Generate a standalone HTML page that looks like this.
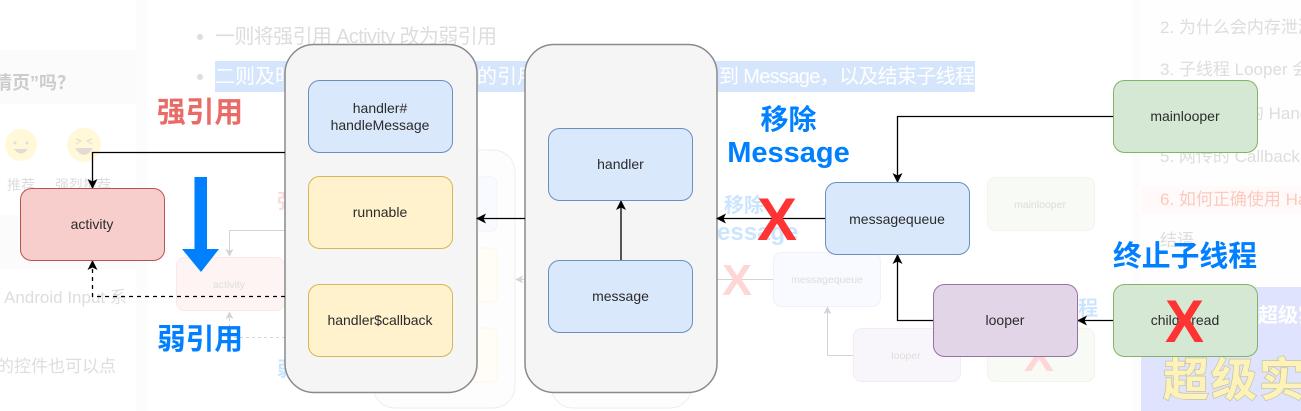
<!DOCTYPE html>
<html><head><meta charset="utf-8">
<style>
html,body{margin:0;padding:0;background:#fff;width:1301px;height:411px;overflow:hidden}
svg{display:block;filter:blur(0.3px)}
text{font-family:"Liberation Sans","Noto Sans CJK SC",sans-serif}
.n{font-size:14px;fill:#2b2b2b;text-anchor:middle}
.f{font-size:10.5px;fill:#ddd;text-anchor:middle}
.b{font-weight:700}
.bg{font-size:20px;fill:#ddd}
.r{font-size:17px;fill:#ddd}
</style></head><body>
<svg width="1301" height="411" viewBox="0 0 1301 411" xmlns="http://www.w3.org/2000/svg">
<defs>
<marker id="a" viewBox="0 0 10 10" refX="9" refY="5" markerWidth="10" markerHeight="10" markerUnits="userSpaceOnUse" orient="auto"><path d="M0 0L10 5L0 10L2.5 5Z" fill="#000"/></marker>
<marker id="g" viewBox="0 0 10 10" refX="9" refY="5" markerWidth="8" markerHeight="8" markerUnits="userSpaceOnUse" orient="auto"><path d="M0 0L10 5L0 10L2.5 5Z" fill="#d4d4d4"/></marker>
</defs>

<!-- faded page backdrop -->
<rect x="136" y="0" width="12" height="411" fill="#fcfcfc"/>
<rect x="0" y="50" width="136" height="54" fill="#fbfbfb"/>
<rect x="0" y="215" width="136" height="54" fill="#fbfbfb"/>
<rect x="1132" y="0" width="8" height="411" fill="#fcfcfc"/>
<rect x="1140" y="0" width="161" height="287" fill="#fefefe"/>
<rect x="1141" y="186" width="160" height="28" fill="#fffaf9"/>
<rect x="1141" y="287" width="160" height="124" fill="#dfe3fd"/>

<circle cx="200" cy="37" r="3" fill="#ddd"/>
<circle cx="200" cy="77" r="3" fill="#ddd"/>
<text x="215" y="43" class="bg" textLength="282" lengthAdjust="spacing">一则将强引用 Activity 改为弱引用</text>
<rect x="215" y="61" width="760" height="31" fill="#d5e6fc"/>
<text x="215" y="83" font-size="20" fill="#fff">二则及时</text>
<text x="477" y="83" font-size="20" fill="#fff">的引用</text>
<text x="719" y="83" font-size="20" fill="#fff" textLength="256" lengthAdjust="spacing">到 Message，以及结束子线程</text>

<text x="-6" y="89" font-size="18" font-weight="700" fill="#ccc">情页”吗？</text>
<circle cx="21" cy="145" r="16" fill="#fff9d9"/>
<circle cx="84" cy="145" r="17" fill="#fff9d9"/>
<circle cx="15" cy="143" r="1.5" fill="#ddd"/><circle cx="27" cy="143" r="1.5" fill="#ddd"/>
<path d="M14 149Q21 158 28 149Z" fill="#e4dcd4"/>
<path d="M75 148Q84 162 93 148Z" fill="#e4dcd4"/>
<path d="M76 139l5 2-5 3M92 139l-5 2 5 3" stroke="#e2dcc8" fill="none"/>
<text x="7" y="190" font-size="14" fill="#ddd">推荐</text>
<text x="55" y="190" font-size="14" fill="#ddd">强烈推荐</text>
<text x="4" y="303" font-size="17" fill="#ddd">Android Input 系</text>
<text x="-3" y="372" font-size="17" fill="#ddd">的控件也可以点</text>

<text x="1160" y="33" class="r">2. 为什么会内存泄漏</text>
<text x="1160" y="75" class="r">3. 子线程 Looper 会</text>
<text x="1160" y="119" class="r">4. 主线程中的 Handler</text>
<text x="1160" y="162" class="r">5. 网传的 Callback</text>
<text x="1160" y="205" class="r" style="fill:#fcc9bf">6. 如何正确使用 Handler</text>
<text x="1160" y="246" class="r">结语</text>
<text x="1258" y="322" font-size="20" font-weight="700" fill="#fff">超级实</text>
<text x="1163" y="396" font-size="46" font-weight="700" fill="#fdf3b8" stroke="#c9c49f" stroke-width="1.500" paint-order="stroke" letter-spacing="2">超级实</text>

<!-- faded ghost diagram -->
<g>
<rect x="373" y="150" width="142" height="258" rx="22" fill="#fdfdfd" stroke="#eee"/>
<rect x="551" y="150" width="141" height="258" rx="22" fill="#fdfdfd" stroke="#eee"/>
<rect x="440" y="177" width="57" height="54" rx="6" fill="#f8faff" stroke="#f1f4fa"/>
<rect x="440" y="248" width="57" height="54" rx="6" fill="#fffdf6" stroke="#fdf8ea"/>
<rect x="440" y="328" width="57" height="54" rx="6" fill="#fffdf6" stroke="#fdf8ea"/>
<rect x="176.500" y="257.500" width="108" height="53" rx="8" fill="#fdf4f3" stroke="#fae8e8"/>
<text x="229" y="288" class="f">activity</text>
<rect x="773.500" y="252.500" width="107" height="54" rx="8" fill="#f8faff" stroke="#eff2f8"/>
<text x="827" y="283" class="f">messagequeue</text>
<rect x="853.500" y="328.500" width="107" height="53" rx="8" fill="#f8f6fa" stroke="#f2edf4"/>
<text x="906" y="359" class="f">looper</text>
<rect x="987.500" y="177.500" width="107" height="53" rx="8" fill="#f7faf5" stroke="#f0f4ec"/>
<text x="1040" y="208" class="f">mainlooper</text>
<rect x="987.500" y="328.500" width="107" height="53" rx="8" fill="#f7faf5" stroke="#f0f4ec"/>
<path d="M285 230.500H229.500V256" fill="none" stroke="#d4d4d4" marker-end="url(#g)"/>
<path d="M285 337.500H229.500V312" fill="none" stroke="#d4d4d4" stroke-dasharray="3 3" marker-end="url(#g)"/>
<path d="M551 279.500H516" fill="none" stroke="#d4d4d4" marker-end="url(#g)"/>
<path d="M773 279.500H717" fill="none" stroke="#d4d4d4"/>
<path d="M853 355.500H827.500V307" fill="none" stroke="#d4d4d4" marker-end="url(#g)"/>
<text x="277" y="208" font-size="20" font-weight="700" fill="#fbdcdc">强</text>
<text x="277" y="376" font-size="20" font-weight="700" fill="#cce5ff">弱</text>
<text x="724" y="212" font-size="20" font-weight="700" fill="#cce5ff">移除</text>
<text x="717" y="240" font-size="24" font-weight="700" fill="#cce5ff">essage</text>
<text x="1078" y="315" font-size="20" font-weight="700" fill="#cce5ff">程</text>
<text x="722" y="295" font-size="44" font-weight="700" fill="#ffd6d6" textLength="30" lengthAdjust="spacingAndGlyphs">X</text>
<text x="1024" y="371" font-size="44" font-weight="700" fill="#ffd6d6" textLength="30" lengthAdjust="spacingAndGlyphs">X</text>
</g>

<!-- containers -->
<rect x="285" y="44.500" width="192" height="348" rx="29" fill="#f5f5f5" stroke="#8a8a8a" stroke-width="1.500"/>
<rect x="525" y="44.500" width="192" height="348" rx="29" fill="#f5f5f5" stroke="#8a8a8a" stroke-width="1.500"/>

<!-- connectors -->
<g fill="none" stroke="#000" stroke-width="1.300">
<path d="M285 152.500H92.500V188" marker-end="url(#a)"/>
<path d="M285 296.500H92.500V261" stroke-dasharray="4 4" marker-end="url(#a)"/>
<path d="M525 218.500H477" marker-end="url(#a)"/>
<path d="M825 218.500H717" marker-end="url(#a)"/>
<path d="M621 260V201" marker-end="url(#a)"/>
<path d="M1113 116.500H897.500V182" marker-end="url(#a)"/>
<path d="M933 320.500H897.500V255" marker-end="url(#a)"/>
<path d="M1113 320.500H1078" marker-end="url(#a)"/>
</g>

<!-- nodes -->
<rect x="20.500" y="188.500" width="144" height="72" rx="11" fill="#f8cecc" stroke="#b85450"/>
<text x="92" y="229" class="n">activity</text>
<rect x="308.500" y="80.500" width="144" height="72" rx="11" fill="#dae8fc" stroke="#6c8ebf"/>
<text x="380" y="113" class="n">handler#</text>
<text x="380" y="130" class="n">handleMessage</text>
<rect x="308.500" y="176.500" width="144" height="72" rx="11" fill="#fff2cc" stroke="#d6b656"/>
<text x="380" y="217" class="n">runnable</text>
<rect x="308.500" y="284.500" width="144" height="72" rx="11" fill="#fff2cc" stroke="#d6b656"/>
<text x="380" y="325" class="n">handler$callback</text>
<rect x="548.500" y="128.500" width="144" height="72" rx="11" fill="#dae8fc" stroke="#6c8ebf"/>
<text x="620.500" y="169" class="n">handler</text>
<rect x="548.500" y="260.500" width="144" height="72" rx="11" fill="#dae8fc" stroke="#6c8ebf"/>
<text x="620.500" y="301" class="n">message</text>
<rect x="825.500" y="182.500" width="144" height="72" rx="11" fill="#dae8fc" stroke="#6c8ebf"/>
<text x="897" y="224" class="n">messagequeue</text>
<rect x="1113.500" y="80.500" width="144" height="72" rx="11" fill="#d5e8d4" stroke="#82b366"/>
<text x="1185" y="121" class="n">mainlooper</text>
<rect x="933.500" y="284.500" width="144" height="72" rx="11" fill="#e1d5e7" stroke="#9673a6"/>
<text x="1005" y="325" class="n">looper</text>
<rect x="1113.500" y="284.500" width="144" height="72" rx="11" fill="#d5e8d4" stroke="#82b366"/>
<text x="1185" y="325" class="n">childthread</text>

<!-- overlay labels -->
<text x="157" y="122" font-size="29" class="b" fill="#ea6b66" textLength="86" lengthAdjust="spacingAndGlyphs">强引用</text>
<text x="157" y="349" font-size="29" class="b" fill="#007fff" textLength="86" lengthAdjust="spacingAndGlyphs">弱引用</text>
<text x="788.500" y="129" font-size="28" class="b" fill="#007fff" text-anchor="middle">移除</text>
<text x="788.500" y="162" font-size="29" class="b" fill="#007fff" text-anchor="middle">Message</text>
<text x="1113" y="266" font-size="29" class="b" fill="#007fff" textLength="144" lengthAdjust="spacingAndGlyphs">终止子线程</text>
<path d="M194.500 177H207V249H219L201 272L182 249H194.500Z" fill="#007fff"/>
<text x="757" y="240" font-size="60" class="b" fill="#ff3333" textLength="40" lengthAdjust="spacingAndGlyphs">X</text>
<text x="1165" y="342" font-size="60" class="b" fill="#ff3333" textLength="39" lengthAdjust="spacingAndGlyphs">X</text>
</svg>
</body></html>
